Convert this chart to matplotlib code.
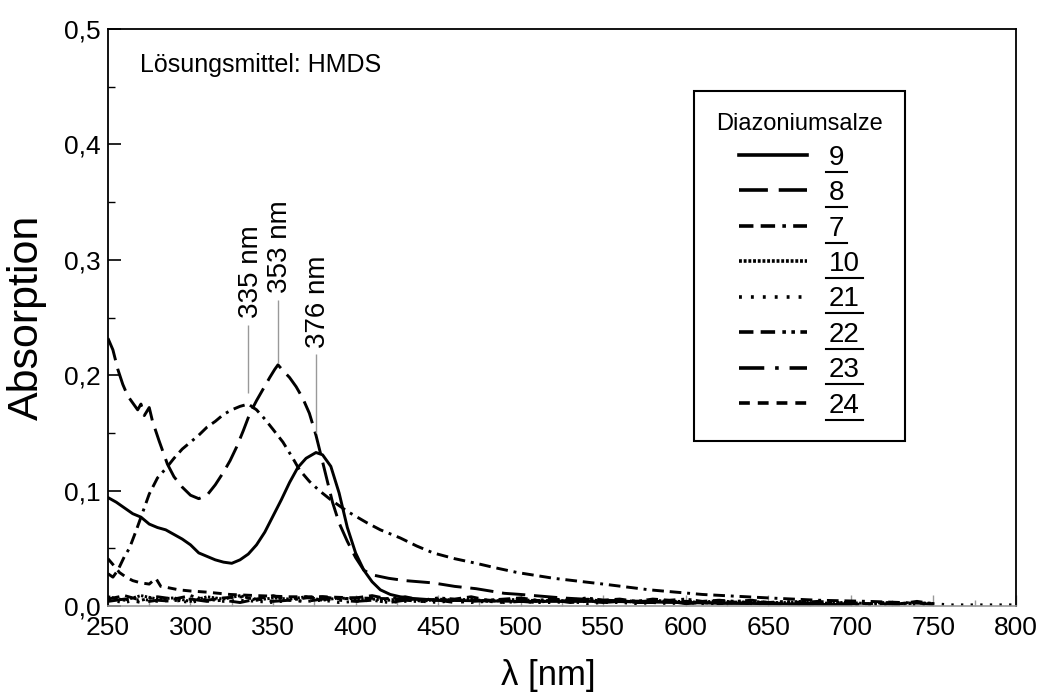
import matplotlib
matplotlib.use("Agg")
import matplotlib.pyplot as plt
from matplotlib.lines import Line2D
import numpy as np

plt.rcParams['font.family'] = ['Liberation Sans', 'DejaVu Sans']

# --- Daten ----------------------------------------------------------------
wl_9 = [250, 255, 260, 265, 270, 275, 280, 285, 290, 295, 300, 305, 310, 315, 320,
        325, 330, 335, 340, 345, 350, 355, 360, 365, 370, 376, 380, 385, 390, 395,
        400, 405, 410, 415, 421, 430, 440, 450, 500, 550, 600, 650, 700]
abs_9 = [.094, .090, .085, .080, .077, .071, .068, .066, .062, .058, .053, .046, .043,
         .040, .038, .037, .040, .045, .053, .064, .078, .092, .107, .120, .128, .133,
         .131, .121, .098, .068, .046, .031, .021, .014, .010, .007, .006, .005, .004,
         .004, .003, .002, .001]

wl_8 = [250, 253, 256, 259, 262, 265, 268, 270, 272, 275, 277, 281, 283, 286, 290, 295,
        300, 305, 310, 315, 320, 324, 328, 332, 336, 340, 344, 348, 351, 353, 356, 360,
        364, 368, 372, 376, 380, 386, 390, 395, 400, 405, 410, 420, 430, 447, 460, 473,
        490, 500, 525, 550, 600, 650, 700]
abs_8 = [.232, .222, .205, .192, .182, .176, .170, .175, .165, .172, .160, .143, .135,
         .123, .112, .103, .096, .093, .096, .105, .116, .126, .138, .152, .167, .178,
         .188, .198, .205, .209, .204, .198, .190, .180, .167, .148, .125, .090, .072,
         .056, .042, .031, .027, .024, .022, .020, .017, .015, .011, .010, .007, .005,
         .003, .002, .001]

wl_7 = [250, 253, 256, 260, 263, 267, 271, 275, 280, 285, 290, 295, 300, 305, 310, 315,
        320, 325, 330, 335, 340, 345, 350, 356, 362, 366, 372, 378, 385, 395, 407, 415,
        427, 437, 447, 460, 473, 485, 498, 520, 550, 578, 610, 650, 680, 711, 750]
abs_7 = [.028, .025, .031, .043, .050, .065, .081, .097, .111, .119, .128, .136, .142,
         .148, .155, .160, .166, .170, .173, .175, .170, .162, .153, .142, .128, .118,
         .108, .100, .092, .082, .072, .066, .059, .052, .046, .041, .037, .033, .029,
         .024, .019, .014, .010, .007, .005, .004, .002]

wl_24 = [250, 253, 257, 261, 265, 270, 275, 279, 282, 286, 293, 300, 310, 324, 340, 360,
         380, 400, 430, 460, 500, 550, 600, 650]
abs_24 = [.041, .036, .029, .025, .022, .020, .019, .024, .017, .016, .014, .013, .012,
          .010, .009, .008, .008, .007, .006, .005, .005, .004, .004, .003]

wl_base = list(range(250, 760, 10))
abs_10 = [.008, .005, .009, .006, .007, .004, .008, .006, .009, .005, .007, .006, .008,
          .005, .007, .006, .006, .005, .007, .004, .006, .005, .006, .004, .005, .006,
          .004, .005, .004, .006, .004, .005, .003, .005, .004, .004, .003, .005, .003,
          .004, .003, .003, .004, .002, .003, .003, .002, .003, .002, .003, .002]
abs_22 = [.006, .009, .005, .008, .006, .009, .005, .007, .008, .006, .009, .005, .007,
          .008, .006, .007, .009, .006, .008, .005, .007, .006, .008, .005, .006, .007,
          .005, .006, .005, .007, .005, .006, .004, .006, .005, .006, .004, .005, .004,
          .005, .003, .004, .003, .004, .003, .003, .002, .003, .002, .004, .002]
abs_23 = [.004, .006, .003, .005, .004, .006, .004, .005, .003, .006, .004, .005, .004,
          .006, .005, .004, .005, .003, .005, .004, .005, .003, .004, .005, .003, .004,
          .003, .005, .003, .004, .003, .004, .003, .003, .004, .002, .003, .002, .003,
          .002, .003, .002, .002, .003, .002, .002, .001, .002, .001, .003, .001]
wl_21 = list(range(250, 810, 10))
abs_21 = [.005, .003, .006, .004, .005, .003, .006, .004, .005, .004, .003, .005, .004,
          .005, .003, .004, .005, .003, .004, .004, .003, .005, .003, .004, .003, .004,
          .003, .003, .004, .002, .003, .003, .002, .003, .002, .003, .002, .002, .003,
          .002, .002, .002, .001, .002, .002, .001, .002, .001, .002, .001, .002, .001,
          .001, .001, .001, .001]

labels = ['9', '8', '7', '10', '21', '22', '23', '24']
series = {
    '9': (wl_9, abs_9),
    '8': (wl_8, abs_8),
    '7': (wl_7, abs_7),
    '10': (wl_base, abs_10),
    '21': (wl_21, abs_21),
    '22': (wl_base, abs_22),
    '23': (wl_base, abs_23),
    '24': (wl_24, abs_24),
}
styles = {
    '9': '-',
    '8': (0, (8, 3)),
    '7': (0, (4, 2, 4, 2, 1, 2)),
    '10': (0, (0.8, 0.5)),
    '21': (0, (0.8, 2.5)),
    '22': (0, (4, 2, 4, 2, 1, 1.5, 1, 1.5)),
    '23': (0, (7, 3, 1, 3)),
    '24': (0, (3, 2.2)),
}

peak_nm = [335, 353, 376]
peak_line_low = [0.185, 0.211, 0.150]
peak_line_high = [0.2435, 0.2656, 0.218]

# --- Plot -------------------------------------------------------------------
fig = plt.figure(figsize=(10.43, 6.94), dpi=100)
ax = fig.add_axes([0.1035, 0.1268, 0.8706, 0.8314])

for lab in labels:
    x, y = series[lab]
    ax.plot(x, y, color='black', lw=2.1, linestyle=styles[lab], label=lab)

ax.vlines(peak_nm, peak_line_low, peak_line_high, color='0.6', lw=1.0)
for nm, top in zip(peak_nm, peak_line_high):
    ax.text(nm + 1.5, top + 0.006, f"{nm} nm", rotation=90, ha='center', va='bottom',
            fontsize=20)

ax.text(0.035, 0.937, "Lösungsmittel: HMDS", transform=ax.transAxes, fontsize=18,
        va='center', ha='left')

ax.set_xlim(250, 800)
ax.set_ylim(0, 0.5)
ax.set_xticks(np.arange(250, 801, 50))
ax.set_xticks(np.arange(250, 801, 25), minor=True)
ax.set_yticks(np.arange(0, 0.51, 0.1))
ax.set_yticks(np.arange(0, 0.51, 0.05), minor=True)
ax.set_yticklabels([f"{v:.1f}".replace('.', ',') for v in np.arange(0, 0.51, 0.1)])

ax.tick_params(axis='both', which='both', direction='in', labelsize=19)
ax.tick_params(axis='y', which='major', length=9, width=1.2, pad=5)
ax.tick_params(axis='y', which='minor', length=5, width=1.0)
ax.tick_params(axis='x', which='major', length=8, width=1.0, color='0.6', pad=7)
ax.tick_params(axis='x', which='minor', length=4, width=1.0, color='0.6')

for s in ['left', 'right', 'top']:
    ax.spines[s].set_linewidth(1.3)
ax.spines['bottom'].set_color('0.6')
ax.spines['bottom'].set_linewidth(1.2)

ax.set_ylabel("Absorption", fontsize=31)
ax.yaxis.set_label_coords(-0.067, 0.5)
ax.set_xlabel("λ [nm]", fontsize=25)
ax.xaxis.set_label_coords(0.485, -0.092)

leg = ax.legend(title="Diazoniumsalze", title_fontsize=17, fontsize=20,
                loc='upper left', bbox_to_anchor=(0.645, 0.8925), borderaxespad=0,
                frameon=True, fancybox=False, edgecolor='black', framealpha=1,
                borderpad=0.8, handlelength=2.45, handletextpad=0.8,
                labelspacing=0.34)
leg.get_frame().set_linewidth(1.5)
for h in leg.legend_handles:
    h.set_linewidth(2.6)

# Unterstreichung der Verbindungsnummern
fig.canvas.draw()
inv = fig.transFigure.inverted()
for t in leg.get_texts():
    bb = t.get_window_extent()
    x0, y0 = inv.transform((bb.x0 - 3, bb.y0 - 1))
    x1, _ = inv.transform((bb.x1 + 3, bb.y0 - 1))
    fig.add_artist(Line2D([x0, x1], [y0, y0], transform=fig.transFigure,
                          color='black', lw=1.5))

fig.savefig("out.png", dpi=100)
